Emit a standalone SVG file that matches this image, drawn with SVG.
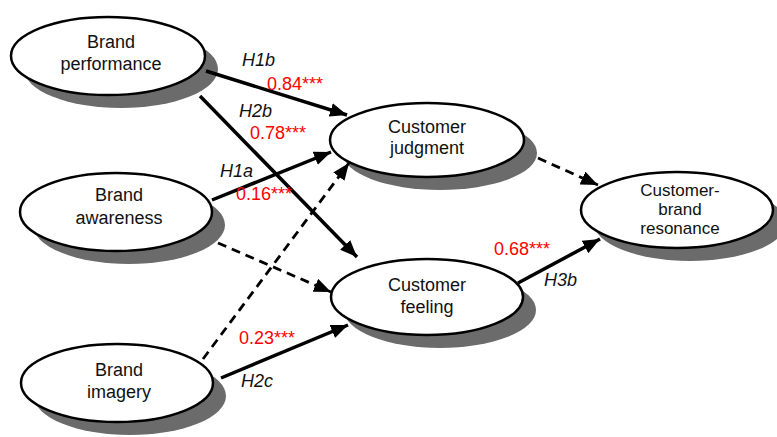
<svg xmlns="http://www.w3.org/2000/svg" width="777" height="437" viewBox="0 0 777 437">
<style>
.sh{fill:#6b6b6b;}
.el{fill:#fff;stroke:#000;stroke-width:2.5;}
.t{font-family:"Liberation Sans",Arial,sans-serif;font-size:18px;fill:#111;text-anchor:middle;}
.t2{font-family:"Liberation Sans",Arial,sans-serif;font-size:17px;fill:#111;text-anchor:middle;}
.h{font-family:"Liberation Sans",Arial,sans-serif;font-size:18px;font-style:italic;fill:#111;}
.v{font-family:"Liberation Sans",Arial,sans-serif;font-size:18px;fill:#f00;}
.s{fill:none;stroke:#000;stroke-width:3.5;marker-end:url(#ah);}
.d{fill:none;stroke:#000;stroke-width:2.8;stroke-dasharray:9 6;marker-end:url(#ah);}
</style>
<defs>
<marker id="ah" markerUnits="userSpaceOnUse" markerWidth="18" markerHeight="14" refX="17" refY="7" orient="auto">
<path d="M0,0 L17,7 L0,14 z" fill="#000"/>
</marker>
</defs>
<rect width="777" height="437" fill="#fff"/>
<g id="brand-performance">
<ellipse class="sh" cx="121" cy="69" rx="97" ry="39"/>
<ellipse class="el" cx="108" cy="56" rx="97" ry="39"/>
<text class="t" x="111" y="48">Brand</text>
<text class="t" x="111" y="70">performance</text>
</g>
<g id="brand-awareness">
<ellipse class="sh" cx="129" cy="225" rx="96" ry="39"/>
<ellipse class="el" cx="116" cy="212" rx="96" ry="39"/>
<text class="t" x="119" y="201">Brand</text>
<text class="t" x="119" y="224">awareness</text>
</g>
<g id="brand-imagery">
<ellipse class="sh" cx="130" cy="396" rx="96" ry="39"/>
<ellipse class="el" cx="117" cy="383" rx="96" ry="39"/>
<text class="t" x="119" y="376">Brand</text>
<text class="t" x="119" y="398">imagery</text>
</g>
<g id="customer-judgment">
<ellipse class="sh" cx="440" cy="153" rx="97" ry="37"/>
<ellipse class="el" cx="427" cy="140" rx="97" ry="37"/>
<text class="t" x="427" y="133">Customer</text>
<text class="t" x="427" y="154">judgment</text>
</g>
<g id="customer-feeling">
<ellipse class="sh" cx="440" cy="310" rx="96" ry="38"/>
<ellipse class="el" cx="427" cy="297" rx="96" ry="38"/>
<text class="t" x="427" y="291">Customer</text>
<text class="t" x="427" y="313">feeling</text>
</g>
<g id="customer-brand-resonance">
<ellipse class="sh" cx="690" cy="223" rx="96" ry="38"/>
<ellipse class="el" cx="677" cy="210" rx="96" ry="38"/>
<text class="t2" x="680" y="196">Customer-</text>
<text class="t2" x="680" y="215">brand</text>
<text class="t2" x="680" y="234">resonance</text>
</g>
<g id="connectors">
<line class="s" x1="206" y1="71" x2="347" y2="115"/>
<line class="s" x1="200" y1="96" x2="357" y2="257"/>
<line class="s" x1="212" y1="200" x2="331" y2="152"/>
<line class="d" x1="203" y1="359" x2="349" y2="163"/>
<line class="d" x1="218" y1="243" x2="331" y2="292"/>
<line class="s" x1="221" y1="378" x2="348" y2="325"/>
<line class="d" x1="538" y1="158" x2="598" y2="185"/>
<line class="s" x1="518" y1="283" x2="600" y2="239"/>
</g>
<g id="labels">
<text class="h" x="242" y="66">H1b</text>
<text class="v" x="267" y="90">0.84***</text>
<text class="h" x="239" y="117">H2b</text>
<text class="v" x="250" y="139">0.78***</text>
<text class="h" x="220" y="177">H1a</text>
<text class="v" x="236" y="200">0.16***</text>
<text class="v" x="494" y="255">0.68***</text>
<text class="h" x="544" y="286">H3b</text>
<text class="v" x="239" y="344">0.23***</text>
<text class="h" x="241" y="387">H2c</text>
</g>
</svg>
